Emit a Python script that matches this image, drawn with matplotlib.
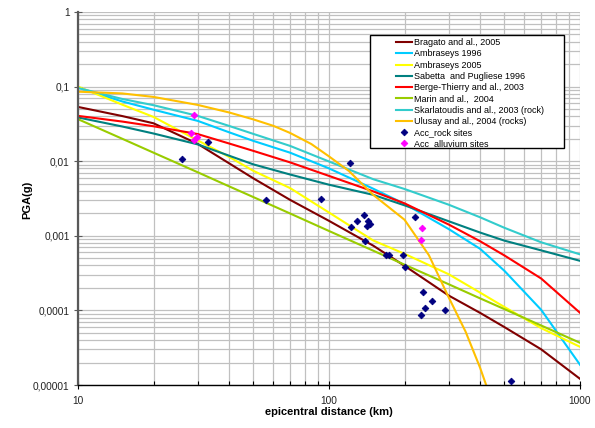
import matplotlib
matplotlib.use("Agg")
import matplotlib.pyplot as plt
from matplotlib.patches import Rectangle
from matplotlib.ticker import FixedLocator, NullFormatter, LogLocator

plt.rcParams['font.family'] = ['Liberation Sans', 'DejaVu Sans']

# ---- data ----
dist = [10, 15, 20, 30, 40, 50, 70, 100, 150, 200, 300, 400, 500, 700, 1000]

bragato = [0.0534, 0.0403, 0.0322, 0.01705, 0.00937, 0.00588, 0.00303, 0.001586,
           0.000738, 0.000396, 0.000158, 0.0000926, 0.0000597, 0.0000301, 0.0000121]
ambraseys96 = [0.097, 0.0633, 0.0490, 0.0347, 0.0244, 0.0187, 0.0130, 0.00801,
               0.00428, 0.00268, 0.00123, 0.000669, 0.000339, 0.000102, 0.0000187]
ambraseys05 = [0.100, 0.0573, 0.0392, 0.0190, 0.01142, 0.00742, 0.00436, 0.00205,
               0.000866, 0.000573, 0.000305, 0.000173, 0.000111, 0.0000579, 0.0000325]
sabetta = [0.0386, 0.0292, 0.0235, 0.0168, 0.01185, 0.00906, 0.00663, 0.00484,
           0.00354, 0.00256, 0.001566, 0.001105, 0.000861, 0.000638, 0.000462]
berge = [0.0405, 0.0340, 0.0294, 0.0231, 0.01727, 0.01374, 0.00964, 0.00635,
         0.00394, 0.00272, 0.001415, 0.000845, 0.000545, 0.000268, 0.0000929]
marin = [0.0366, 0.0200, 0.0130, 0.0071, 0.0046, 0.0033, 0.00199, 0.00116,
         0.000632, 0.00041, 0.000224, 0.000145, 0.000104, 0.0000628, 0.0000368]
skarlatoudis = [0.0959, 0.0683, 0.0563, 0.0405, 0.0297, 0.0232, 0.01603, 0.00991,
                0.00574, 0.00424, 0.00261, 0.00177, 0.00128, 0.000819, 0.000564]

ulusay_dist = [10, 15, 20, 30, 40, 50, 60, 70, 85, 100, 120, 150, 200, 250, 300, 350,
               400, 425]
ulusay = [0.0855, 0.0810, 0.0727, 0.0568, 0.0450, 0.0363, 0.0298, 0.0239, 0.0170,
          0.0116, 0.0074, 0.00354, 0.00164, 0.00055, 0.000149, 0.000052,
          0.0000170, 0.0000095]

rock_dist = [26.0, 33.0, 56.1, 92.9, 120.7, 137.9, 129.0, 122.9, 143.4, 145.4, 142.1,
             139.1, 168.7, 173.9, 197.7, 200.8, 219.5, 236.2, 256.1, 241.7, 232.1,
             289.3, 529.6]
rock_pga = [0.01064, 0.01786, 0.00303, 0.00310, 0.00958, 0.00189, 0.00160, 0.001298,
            0.00157, 0.001445, 0.001338, 0.000851, 0.000552, 0.000552, 0.000552,
            0.000387, 0.00181, 0.000179, 0.0001345, 0.0001073, 0.0000868,
            0.0000997, 0.0000114]

alluvium_dist = [29.0, 28.1, 29.9, 29.0, 234.1, 231.9]
alluvium_pga = [0.0417, 0.02415, 0.02097, 0.01911, 0.001266, 0.000883]

x_ticks = [10, 100, 1000]
x_tick_labels = ["10", "100", "1000"]
y_ticks = [0.00001, 0.0001, 0.001, 0.01, 0.1, 1]
y_tick_labels = ["0,00001", "0,0001", "0,001", "0,01", "0,1", "1"]

series = [
    ("Bragato and al., 2005", dist, bragato, "#800000"),
    ("Ambraseys 1996", dist, ambraseys96, "#00CCFF"),
    ("Ambraseys 2005", dist, ambraseys05, "#FFFF00"),
    ("Sabetta  and Pugliese 1996", dist, sabetta, "#008080"),
    ("Berge-Thierry and al., 2003", dist, berge, "#FF0000"),
    ("Marin and al.,  2004", dist, marin, "#99CC00"),
    ("Skarlatoudis and al., 2003 (rock)", dist, skarlatoudis, "#33CCCC"),
    ("Ulusay and al., 2004 (rocks)", ulusay_dist, ulusay, "#FFC000"),
]

# ---- figure ----
W, H = 595, 428
fig = plt.figure(figsize=(W / 100, H / 100), dpi=100)
ax = fig.add_axes([78 / W, 1 - 385 / H, (580 - 78) / W, (385 - 12) / H])
ax.set_xscale('log')
ax.set_yscale('log')
ax.set_xlim(10, 1000)
ax.set_ylim(0.00001, 1)

grid_col = "#C0C0C0"
ax.grid(True, which='major', color=grid_col, lw=0.9)
ax.grid(True, which='minor', color=grid_col, lw=0.9)
ax.set_axisbelow(True)

handles = []
for name, xs, ys, col in series:
    h, = ax.plot(xs, ys, color=col, lw=1.5, label=name, solid_joinstyle='round')
    handles.append(h)

hr, = ax.plot(rock_dist, rock_pga, linestyle='none', marker='D', ms=3.4, mew=0.6,
              color="#000080", label="Acc_rock sites", zorder=5)
ha, = ax.plot(alluvium_dist, alluvium_pga, linestyle='none', marker='D', ms=3.4, mew=0.6,
              color="#FF00FF", label="Acc_alluvium sites", zorder=5)
handles += [hr, ha]

# axes styling
for s in ['top', 'right']:
    ax.spines[s].set_visible(False)
ax.spines['left'].set_color('#595959')
ax.spines['left'].set_linewidth(1.6)
ax.spines['bottom'].set_color('black')
ax.spines['bottom'].set_linewidth(1.0)

ax.xaxis.set_major_locator(FixedLocator(x_ticks))
ax.set_xticklabels(x_tick_labels)
ax.xaxis.set_minor_locator(LogLocator(base=10, subs=range(2, 10)))
ax.xaxis.set_minor_formatter(NullFormatter())
ax.yaxis.set_major_locator(FixedLocator(y_ticks))
ax.set_yticklabels(y_tick_labels)
ax.yaxis.set_minor_locator(LogLocator(base=10, subs=range(2, 10)))
ax.yaxis.set_minor_formatter(NullFormatter())

ax.tick_params(axis='x', which='major', direction='inout', length=6, width=0.8,
               labelsize=7.3, pad=5, colors='black', labelcolor='#222222')
ax.tick_params(axis='x', which='minor', direction='in', length=3, width=0.8, colors='black')
ax.tick_params(axis='y', which='major', direction='inout', length=6, width=0.8,
               labelsize=7.3, pad=3, colors='#595959', labelcolor='#222222')
ax.tick_params(axis='y', which='minor', length=0)

fig.text(329 / W, 1 - 412 / H, "epicentral distance (km)", ha='center', va='center',
         fontsize=8, fontweight='bold')
fig.text(27 / W, 1 - 200 / H, "PGA(g)", ha='center', va='center', rotation=90,
         fontsize=8, fontweight='bold')

# legend
leg = ax.legend(handles=handles, loc='upper left', frameon=False,
                bbox_to_anchor=(395.7 / W, 1 - 38.2 / H), bbox_transform=fig.transFigure,
                borderaxespad=0, borderpad=0, fontsize=6.5, handlelength=1.85,
                handletextpad=0.15, labelspacing=0.25, numpoints=1)
leg.set_zorder(10)
frame = Rectangle((370 / W, 1 - 148 / H), 194 / W, 113 / H, transform=fig.transFigure,
                  facecolor='white', edgecolor='black', lw=1.0, zorder=8, clip_on=False)
ax.add_artist(frame)

fig.savefig("out.png", dpi=100)
